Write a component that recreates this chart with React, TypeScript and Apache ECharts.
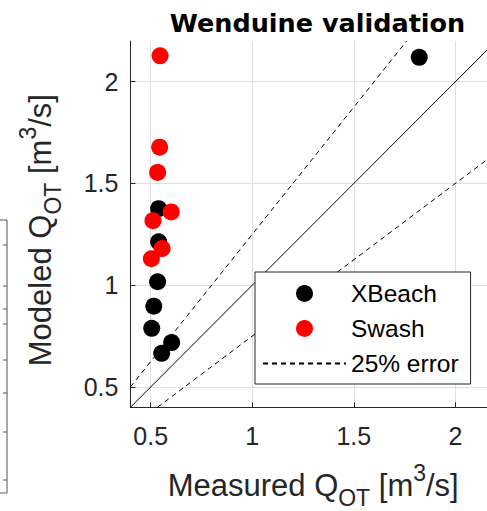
import React, { useEffect, useRef } from 'react';
import * as echarts from 'echarts';

// Measured vs modelled overtopping discharge (m3/s)
const xbeachMeasured = [1.822, 0.539, 0.539, 0.534, 0.515, 0.505, 0.554, 0.603];
const xbeachModeled = [2.12, 1.376, 1.213, 1.017, 0.897, 0.788, 0.665, 0.718];
const swashMeasured = [0.546, 0.544, 0.534, 0.601, 0.511, 0.556, 0.503];
const swashModeled = [2.127, 1.678, 1.554, 1.36, 1.317, 1.18, 1.13];

const axisMin = 0.4;
const axisMax = 2.2;
const tickValues = [0.5, 1, 1.5, 2];

// reference lines: 1:1 and +/-25 % error, as end points
const oneToOneLine = [[0.4, 0.4], [2.2, 2.2]];
const upperErrorLine = [[0.4, 0.5], [1.76, 2.2]];
const lowerErrorLine = [[0.5333, 0.4], [2.2, 1.65]];

const seriesNames = ['XBeach', 'Swash', '25% error'];

const FONT = "'Liberation Sans', Arial, sans-serif";
const DARK = '#262626';

export default function App() {
  const ref = useRef<HTMLDivElement>(null);

  useEffect(() => {
    if (!ref.current) return;
    const chart = echarts.init(ref.current, undefined, { renderer: 'svg' });

    const xbeachData = xbeachMeasured.map((x, i) => [x, xbeachModeled[i]]);
    const swashData = swashMeasured.map((x, i) => [x, swashModeled[i]]);

    const richName = {
      sub: { fontSize: 23, lineHeight: 10, verticalAlign: 'bottom', fontFamily: FONT, color: DARK },
      sup: { fontSize: 23, lineHeight: 20, verticalAlign: 'top', fontFamily: FONT, color: DARK },
    };

    const axisCommon = (name: string, nameGap: number, labelMargin: number, padding: number[]) => ({
      type: 'value',
      min: axisMin,
      max: axisMax,
      name,
      nameLocation: 'middle',
      nameGap,
      nameTextStyle: {
        fontSize: 31,
        lineHeight: 48,
        fontFamily: FONT,
        color: DARK,
        padding,
        rich: richName,
      },
      axisLine: { show: true, onZero: false, lineStyle: { color: DARK, width: 1 } },
      axisTick: {
        show: true,
        inside: true,
        length: 5,
        customValues: tickValues,
        lineStyle: { color: DARK, width: 1 },
      },
      axisLabel: {
        show: true,
        customValues: tickValues,
        margin: labelMargin,
        fontSize: 25,
        fontFamily: FONT,
        color: DARK,
      },
      splitLine: { show: true, lineStyle: { color: '#dfdfdf', width: 1 } },
    });

    const option: any = {
      animation: false,
      backgroundColor: '#ffffff',
      title: {
        text: 'Wenduine validation',
        left: 312.5,
        top: 5,
        textAlign: 'center',
        textStyle: {
          fontFamily: "'DejaVu Sans', sans-serif",
          fontWeight: 'bold',
          fontSize: 25.5,
          color: '#000',
        },
      },
      grid: {
        left: 130.4,
        right: -9,
        top: 41,
        bottom: 103.7,
        containLabel: false,
        outerBoundsMode: 'none',
      },
      xAxis: axisCommon('Measured Q{sub|OT} [m{sup|3}/s]', 54, 16, [0, 0, 0, 0]),
      yAxis: axisCommon('Modeled Q{sub|OT} [m{sup|3}/s]', 66, 12, [0, 12, 0, 0]),
      legend: {
        orient: 'vertical',
        left: 255,
        top: 272,
        data: [
          { name: seriesNames[0], icon: 'circle' },
          { name: seriesNames[1], icon: 'circle' },
          { name: seriesNames[2], itemStyle: { opacity: 0 } },
        ],
        itemWidth: 83,
        itemHeight: 17,
        itemGap: 10,
        padding: [9, 12, 8, 7],
        borderColor: DARK,
        borderWidth: 1,
        borderRadius: 0,
        backgroundColor: '#ffffff',
        selectedMode: false,
        textStyle: { fontSize: 24.5, fontFamily: FONT, color: '#000' },
      },
      graphic: [
        {
          type: 'group',
          silent: true,
          children: [
            { type: 'line', shape: { x1: 7, y1: 220, x2: 7, y2: 493 }, style: { stroke: '#555', lineWidth: 1 } },
            { type: 'line', shape: { x1: 0, y1: 220, x2: 7, y2: 220 }, style: { stroke: '#555', lineWidth: 1 } },
            { type: 'line', shape: { x1: 0, y1: 493, x2: 7, y2: 493 }, style: { stroke: '#555', lineWidth: 1 } },
            ...[245, 286, 309, 324, 360, 393, 432, 480].map((y) => ({
              type: 'line',
              shape: { x1: 3, y1: y, x2: 7, y2: y },
              style: { stroke: '#555', lineWidth: 1 },
            })),
          ],
        },
      ],
      series: [
        {
          name: '1:1',
          type: 'line',
          data: oneToOneLine,
          symbol: 'none',
          silent: true,
          clip: true,
          lineStyle: { color: '#000', width: 1 },
          z: 2,
        },
        {
          name: seriesNames[2],
          type: 'line',
          data: upperErrorLine,
          symbol: 'none',
          silent: true,
          clip: true,
          itemStyle: { color: '#000' },
          lineStyle: { color: '#000', width: 1, type: [5, 4] },
          z: 2,
        },
        {
          name: seriesNames[2],
          type: 'line',
          data: lowerErrorLine,
          symbol: 'none',
          silent: true,
          clip: true,
          itemStyle: { color: '#000' },
          lineStyle: { color: '#000', width: 1, type: [5, 4] },
          z: 2,
        },
        {
          name: seriesNames[0],
          type: 'scatter',
          data: xbeachData,
          symbol: 'circle',
          symbolSize: 17,
          itemStyle: { color: '#000000', opacity: 1 },
          z: 3,
        },
        {
          name: seriesNames[1],
          type: 'scatter',
          data: swashData,
          symbol: 'circle',
          symbolSize: 17,
          itemStyle: { color: '#ff0000', opacity: 1 },
          z: 4,
        },
      ],
    };

    chart.setOption(option);
    return () => chart.dispose();
  }, []);

  return (
    <div
      ref={ref}
      style={{ position: 'fixed', left: 0, top: 0, width: 487, height: 511, background: '#fff' }}
    />
  );
}
